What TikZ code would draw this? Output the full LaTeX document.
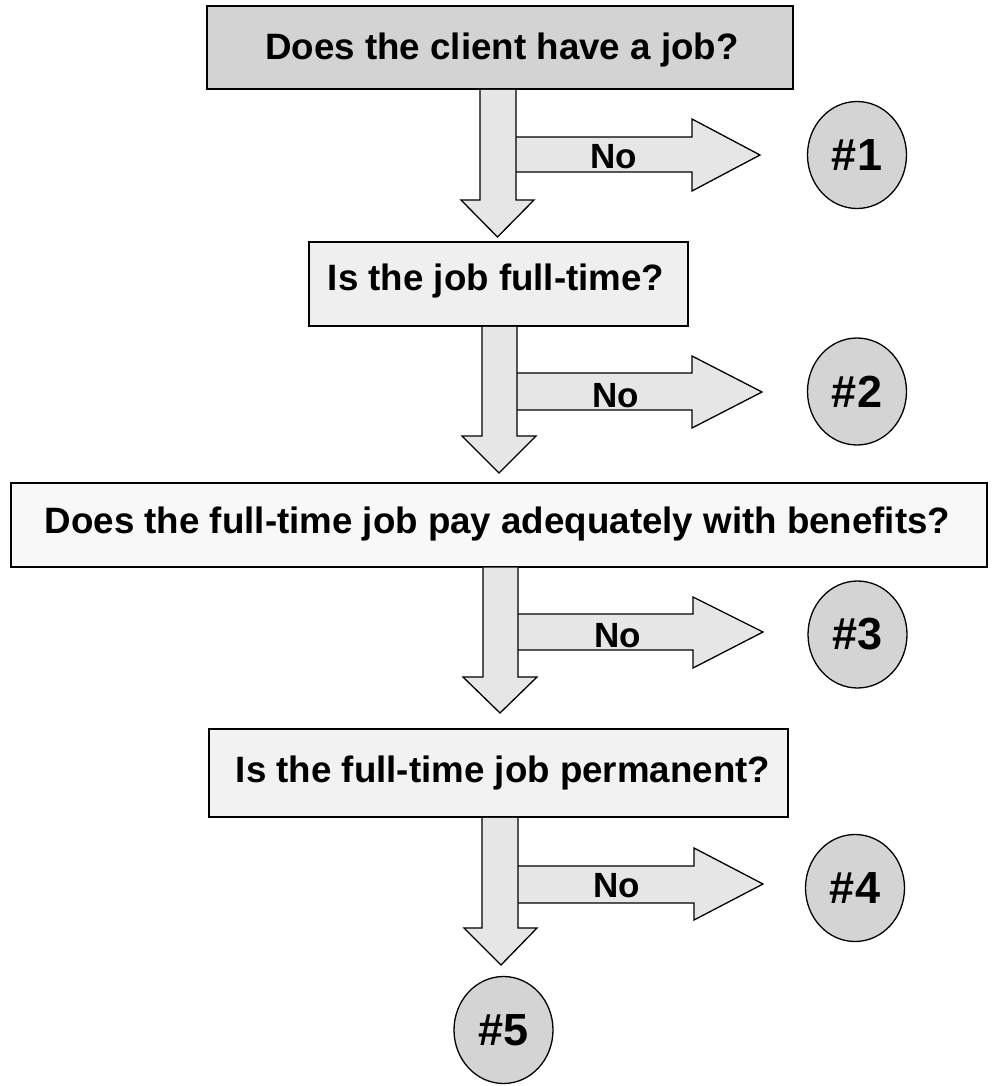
\documentclass[tikz,border=0pt]{standalone}
\usepackage{fontspec}
\setmainfont{Liberation Sans}
\usetikzlibrary{shapes.geometric}
\definecolor{boxA}{HTML}{D3D3D3}
\definecolor{boxB}{HTML}{EFEFEF}
\definecolor{boxC}{HTML}{F8F8F8}
\definecolor{boxD}{HTML}{F2F2F2}
\definecolor{arrowfill}{HTML}{E6E6E6}
\definecolor{endfill}{HTML}{D4D4D4}
\tikzset{
  qbox/.style={draw=black, line width=1.6pt, inner sep=0pt, rectangle},
  qtext/.style={anchor=base, inner sep=0pt, font=\fontsize{36.7}{44}\selectfont\bfseries},
  notext/.style={anchor=base, inner sep=0pt, font=\fontsize{35}{42}\selectfont\bfseries},
  endnode/.style={draw=black, line width=1.3pt, fill=endfill, ellipse, inner sep=0pt,
    minimum width=99pt, minimum height=107pt, font=\fontsize{45}{54}\selectfont\bfseries},
  blockarrow/.style={draw=black, fill=arrowfill, line width=1.3pt, line join=miter}
}
\begin{document}
\begin{tikzpicture}[x=1pt,y=-1pt]
\useasboundingbox (0,0) rectangle (994,1086);

% question boxes
\node[qbox, fill=boxA, minimum width=586pt, minimum height=83pt] (b1) at (500,47.5) {};
\node[qbox, fill=boxB, minimum width=379pt, minimum height=84pt] (b2) at (498.5,284) {};
\node[qbox, fill=boxC, minimum width=976pt, minimum height=83.5pt] (b3) at (499,525) {};
\node[qbox, fill=boxD, minimum width=579pt, minimum height=88pt] (b4) at (498.5,773) {};

% end circles
\node[endnode] (c1) at (857,155) {\#1};
\node[endnode] (c2) at (857,391.5) {\#2};
\node[endnode] (c3) at (857.5,634.5) {\#3};
\node[endnode] (c4) at (855,888) {\#4};
\node[endnode] (c5) at (503.5,1030) {\#5};

% right block arrows ("No")
\draw[blockarrow] (516,137) -- (692,137) -- (692,119) -- (760,155) -- (692,191) -- (692,172) -- (516,172);
\draw[blockarrow] (517,373) -- (692,373) -- (692,356) -- (762,392) -- (692,428) -- (692,410) -- (517,410);
\draw[blockarrow] (518,614) -- (693,614) -- (693,597) -- (763,632) -- (693,668) -- (693,650) -- (518,650);
\draw[blockarrow] (518,866) -- (694,866) -- (694,848) -- (763,884) -- (694,920) -- (694,903) -- (518,903);

% down block arrows
\draw[blockarrow] (480,0 |- b1.south) -- (480,200) -- (461,200) -- (497.5,237) -- (534,200) -- (516,200) -- (516,0 |- b1.south);
\draw[blockarrow] (482,0 |- b2.south) -- (482,436) -- (462,436) -- (499,473) -- (536,436) -- (517,436) -- (517,0 |- b2.south);
\draw[blockarrow] (483,0 |- b3.south) -- (483,677) -- (463,677) -- (500,713) -- (537,677) -- (518,677) -- (518,0 |- b3.south);
\draw[blockarrow] (482,0 |- b4.south) -- (482,928) -- (464,928) -- (501,965) -- (537,928) -- (518,928) -- (518,0 |- b4.south);

% texts
\node[qtext] (t1) at (502,60) {Does the client have a job?};
\node[qtext] (t2) at (496,290) {Is the job full-time?};
\node[qtext] (t3) at (497.5,533) {Does the full-time job pay adequately with benefits?};
\node[qtext] (t4) at (503,782) {Is the full-time job permanent?};

\node[notext] (n1) at (613.5,168) {No};
\node[notext] (n2) at (616,407) {No};
\node[notext] (n3) at (617.5,647) {No};
\node[notext] (n4) at (617,897) {No};
\end{tikzpicture}
\end{document}
